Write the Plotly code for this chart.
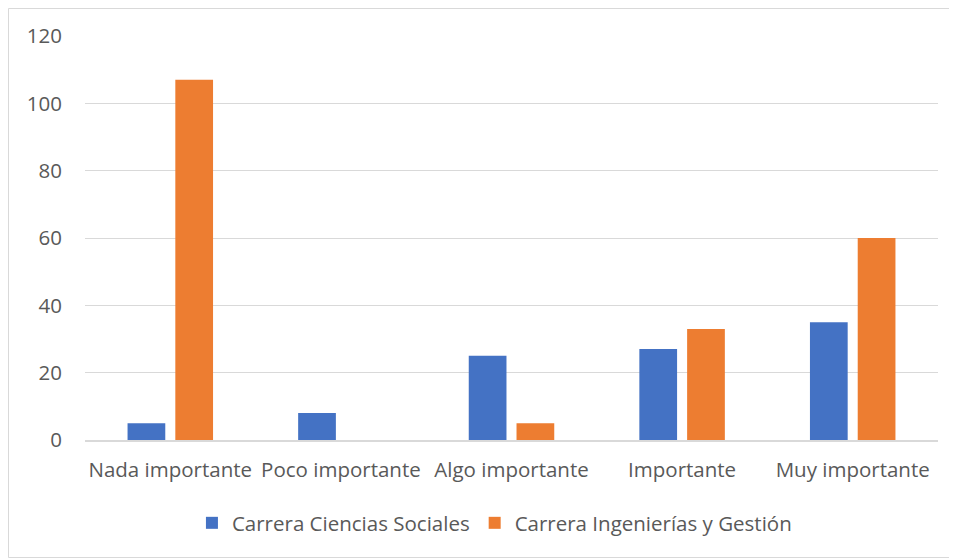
import plotly.graph_objects as go

categories = ["Nada importante", "Poco importante", "Algo importante", "Importante", "Muy importante"]
series_names = ["Carrera Ciencias Sociales", "Carrera Ingenierías y Gestión"]
ciencias_sociales = [5, 8, 25, 27, 35]
ingenierias_gestion = [107, 0, 5, 33, 60]
y_ticks = [0, 20, 40, 60, 80, 100, 120]

colors = ["#4472C4", "#ED7D31"]
font_family = "Open Sans, Lato, sans-serif"
text_color = "#595959"

fig = go.Figure()
for name, vals, col in zip(series_names, [ciencias_sociales, ingenierias_gestion], colors):
    fig.add_trace(go.Bar(x=categories, y=vals, name=name, marker=dict(color=col, line=dict(width=0))))

# page has 8px body margin; figure origin sits at (8, 8)
W, H = 949, 550
ml, mr, mt, mb = 77, 19, 28, 118
pw = W - ml - mr
ph = H - mt - mb

def fx(px):
    return (px - ml) / pw

def fy(py):
    return (H - mb - py) / ph

fig.update_layout(
    width=W, height=H,
    margin=dict(l=ml, r=mr, t=mt, b=mb),
    paper_bgcolor="white", plot_bgcolor="white",
    barmode="group", bargap=0.44, bargroupgap=0.21,
    font=dict(family=font_family, size=20, color=text_color),
    showlegend=True,
    legend=dict(orientation="h", x=0.48, xanchor="center", y=fy(515), yanchor="middle",
                font=dict(size=20.5, color=text_color), bgcolor="rgba(0,0,0,0)"),
    xaxis=dict(showgrid=False, showline=True, linecolor="#D9D9D9", linewidth=1.5,
               ticks="", tickfont=dict(size=20.5, color=text_color), ticklabelstandoff=11, fixedrange=True),
    yaxis=dict(range=[0, 120], tickvals=y_ticks, showgrid=True, gridcolor="#D9D9D9", gridwidth=1,
               zeroline=False, showline=False, ticks="", tickfont=dict(size=20.5, color=text_color),
               ticklabelstandoff=22, fixedrange=True),
    shapes=[dict(type="rect", xref="paper", yref="paper",
                 x0=fx(0.5), x1=fx(W + 10), y0=fy(H - 0.5), y1=fy(0.5),
                 line=dict(color="#D9D9D9", width=1), fillcolor="rgba(0,0,0,0)", layer="below")],
)

fig.write_html("out.html")
